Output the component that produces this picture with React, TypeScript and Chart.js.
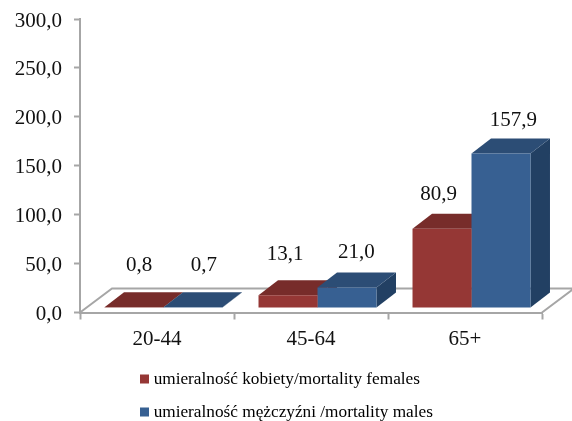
import React, { useEffect, useRef } from "react";
import { Chart, registerables } from "chart.js";

Chart.register(...registerables);

const categories = ["20-44", "45-64", "65+"];
const femalesLabel = "umieralność kobiety/mortality females";
const malesLabel = "umieralność mężczyźni /mortality males";
const females = [0.8, 13.1, 80.9];
const males = [0.7, 21.0, 157.9];

const W = 572;
const H = 421;
const FONT = "'Liberation Serif', 'Times New Roman', serif";
const AXIS = "#a6a6a6";
const TEXT = "#111111";
const FLOOR_DX = 32;
const FLOOR_DY = 24;
const BAR_SHIFT_X = 6.5;
const BAR_SHIFT_Y = 4.5;
const DEPTH_X = 19.5;
const DEPTH_Y = 15;
const skins = [
  { front: "#953735", top: "#772c2a", side: "#632523" },
  { front: "#376092", top: "#2c4d75", side: "#224063" },
];
// hand placement of each value label relative to its bar's top-centre
const nudgeX = [[5, -3, -3.5], [11, 9.5, 12.5]];
const nudgeY = [[42, 41, 34.5], [42, 35, 33.5]];

const fmt = (v: number) => v.toFixed(1).replace(".", ",");

const poly = (ctx: CanvasRenderingContext2D, pts: number[][], fill: string) => {
  ctx.beginPath();
  pts.forEach(([x, y], i) => (i ? ctx.lineTo(x, y) : ctx.moveTo(x, y)));
  ctx.closePath();
  ctx.fillStyle = fill;
  ctx.fill();
};

const bars3d = {
  id: "bars3d",
  afterLayout(chart: any) {
    const lg = chart.legend;
    const w = lg.width;
    lg.left = 128.25;
    lg.right = 128.25 + w;
    const h = lg.height;
    lg.top = 354.6;
    lg.bottom = 354.6 + h;
  },
  beforeDatasetsDraw(chart: any) {
    const { ctx, chartArea: a } = chart;
    const y0 = chart.scales.y.getPixelForValue(0);
    ctx.save();
    ctx.strokeStyle = AXIS;
    ctx.lineWidth = 2;
    ctx.beginPath();
    ctx.moveTo(a.left, y0);
    ctx.lineTo(a.left + FLOOR_DX, y0 - FLOOR_DY);
    ctx.lineTo(a.right + FLOOR_DX, y0 - FLOOR_DY);
    ctx.lineTo(a.right, y0);
    ctx.stroke();
    ctx.restore();

    ctx.save();
    ctx.translate(BAR_SHIFT_X, -BAR_SHIFT_Y);
    chart.data.datasets.forEach((_: any, d: number) => {
      chart.getDatasetMeta(d).data.forEach((b: any) => {
        const l = b.x - b.width / 2;
        const r = b.x + b.width / 2;
        poly(ctx, [[r, b.y], [r + DEPTH_X, b.y - DEPTH_Y], [r + DEPTH_X, b.base - DEPTH_Y], [r, b.base]], skins[d].side);
        poly(ctx, [[l, b.y], [l + DEPTH_X, b.y - DEPTH_Y], [r + DEPTH_X, b.y - DEPTH_Y], [r, b.y]], skins[d].top);
      });
    });
  },
  afterDatasetsDraw(chart: any) {
    const { ctx } = chart;
    ctx.restore();
    ctx.save();
    ctx.font = `21px ${FONT}`;
    ctx.fillStyle = TEXT;
    ctx.textAlign = "center";
    ctx.textBaseline = "middle";
    chart.data.datasets.forEach((ds: any, d: number) => {
      chart.getDatasetMeta(d).data.forEach((b: any, i: number) => {
        ctx.fillText(
          fmt(ds.data[i]),
          b.x + BAR_SHIFT_X + nudgeX[d][i],
          b.y - BAR_SHIFT_Y - nudgeY[d][i],
        );
      });
    });
    ctx.restore();
  },
};

export default function App() {
  const ref = useRef<HTMLCanvasElement>(null);
  useEffect(() => {
    const chart = new Chart(ref.current as HTMLCanvasElement, {
      type: "bar",
      data: {
        labels: categories,
        datasets: [
          { label: femalesLabel, data: females, backgroundColor: skins[0].front },
          { label: malesLabel, data: males, backgroundColor: skins[1].front },
        ],
      },
      plugins: [bars3d],
      options: {
        animation: false,
        responsive: false,
        layout: { padding: { top: 19, right: 30, left: 0, bottom: 0 } },
        datasets: { bar: { categoryPercentage: 0.766, barPercentage: 1 } },
        plugins: {
          tooltip: { enabled: false },
          legend: {
            position: "bottom",
            align: "start",
            labels: {
              font: { family: FONT, size: 17.25 },
              color: TEXT,
              padding: 15.75,
              boxWidth: 1,
              boxHeight: 1,
              generateLabels: (c: any) =>
                c.data.datasets.map((ds: any, i: number) => ({
                  text: ds.label,
                  fillStyle: ds.backgroundColor,
                  strokeStyle: ds.backgroundColor,
                  lineWidth: 8,
                  datasetIndex: i,
                })),
            },
          },
        },
        scales: {
          x: {
            grid: { drawOnChartArea: false, tickLength: 7, tickColor: AXIS, tickWidth: 2, offset: true },
            border: { color: AXIS, width: 2 },
            ticks: { color: TEXT, font: { family: FONT, size: 21 }, padding: 7, maxRotation: 0 },
            afterFit: (s: any) => {
              s.height = H - 312.5 - (s.chart.legend?.height || 0);
              s.paddingLeft = 0;
              s.paddingRight = 0;
            },
          },
          y: {
            min: 0,
            max: 300,
            grid: { drawOnChartArea: false, tickLength: 6, tickColor: AXIS, tickWidth: 2 },
            border: { color: AXIS, width: 2 },
            ticks: {
              stepSize: 50,
              color: TEXT,
              font: { family: FONT, size: 21 },
              padding: 12,
              labelOffset: 2,
              callback: (v: any) => fmt(Number(v)),
            },
            afterFit: (s: any) => {
              s.width = 80;
              s.paddingTop = 0;
              s.paddingBottom = 0;
            },
          },
        },
      },
    } as any);
    return () => chart.destroy();
  }, []);
  return (
    <div style={{ position: "absolute", left: 0, top: 0, width: W, height: H }}>
      <canvas ref={ref} width={W} height={H} style={{ display: "block" }} />
    </div>
  );
}
